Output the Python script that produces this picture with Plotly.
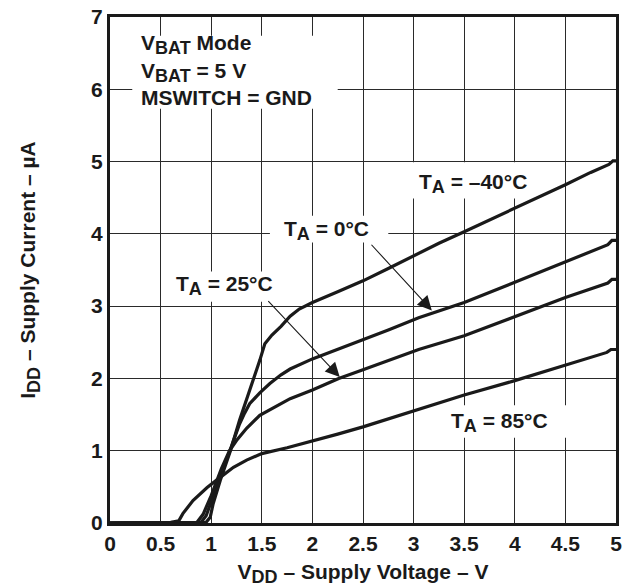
import plotly.graph_objects as go

# ---------------- data ----------------
x_m40 = [0, 0.6, 0.85, 0.95, 0.99, 1.02, 1.09, 1.19, 1.28, 1.38, 1.48, 1.53, 1.56, 1.6, 1.69, 1.78,
         1.87, 2.0, 2.25, 2.5, 2.75, 3.0, 3.25, 3.5, 3.75, 4.0, 4.25, 4.5, 4.75, 4.93, 4.97, 5.0]
y_m40 = [0, 0, 0, 0.01, 0.08, 0.27, 0.59, 1.0, 1.42, 1.83, 2.25, 2.48, 2.53, 2.6, 2.72, 2.86,
         2.96, 3.05, 3.20, 3.35, 3.52, 3.70, 3.87, 4.03, 4.19, 4.36, 4.52, 4.68, 4.85, 4.96, 5.01, 5.01]

x_0 = [0, 0.6, 0.8, 0.9, 0.95, 1.0, 1.1, 1.2, 1.28, 1.33, 1.38, 1.48, 1.58, 1.69, 1.78, 2.0,
       2.25, 2.5, 2.75, 3.05, 3.5, 4.0, 4.25, 4.51, 4.73, 4.92, 4.96, 5.0]
y_0 = [0, 0, 0, 0.01, 0.1, 0.3, 0.68, 1.06, 1.37, 1.52, 1.65, 1.8, 1.93, 2.05, 2.13, 2.27,
       2.40, 2.53, 2.67, 2.84, 3.05, 3.33, 3.47, 3.62, 3.74, 3.85, 3.91, 3.91]

x_25 = [0, 0.6, 0.78, 0.86, 0.92, 1.0, 1.1, 1.18, 1.25, 1.35, 1.48, 1.69, 1.78, 2.0, 2.26,
        2.5, 2.75, 3.05, 3.5, 4.0, 4.5, 4.92, 4.96, 5.0]
y_25 = [0, 0, 0, 0.01, 0.12, 0.38, 0.75, 1.0, 1.14, 1.31, 1.49, 1.65, 1.72, 1.84, 2.0,
        2.12, 2.25, 2.40, 2.59, 2.86, 3.12, 3.32, 3.37, 3.37]

x_85 = [0, 0.4, 0.6, 0.68, 0.72, 0.82, 0.96, 1.06, 1.14, 1.22, 1.35, 1.5, 1.75, 2.0, 2.25,
        2.5, 2.75, 3.05, 3.5, 4.0, 4.5, 4.91, 4.95, 5.0]
y_85 = [0, 0, 0.01, 0.03, 0.13, 0.31, 0.49, 0.6, 0.68, 0.77, 0.87, 0.96, 1.04, 1.13, 1.23,
        1.33, 1.44, 1.58, 1.77, 1.97, 2.18, 2.36, 2.40, 2.40]

series = [("T_A = -40°C", x_m40, y_m40), ("T_A = 0°C", x_0, y_0),
          ("T_A = 25°C", x_25, y_25), ("T_A = 85°C", x_85, y_85)]

x_tickvals = [0, 0.5, 1, 1.5, 2, 2.5, 3, 3.5, 4, 4.5, 5]
x_ticktext = ["0", "0.5", "1", "1.5", "2", "2.5", "3", "3.5", "4", "4.5", "5"]
y_tickvals = [0, 1, 2, 3, 4, 5, 6, 7]
y_ticktext = ["0", "1", "2", "3", "4", "5", "6", "7"]

FONT = "Liberation Sans, Arial, Helvetica, sans-serif"
INK = "#1a1a1a"
FS = 21


def sub(s):
    return '<sub><span style="font-size:18px">' + s + '</span></sub>'


fig = go.Figure()
for name, xs, ys in series:
    fig.add_trace(go.Scatter(x=xs, y=ys, mode="lines", name=name,
                             line=dict(color=INK, width=3.2), showlegend=False))

# white label boxes (between grid and traces)
boxes = [
    (0.22, 2.25, 5.73, 6.74),   # VBAT block
    (2.96, 4.17, 4.49, 4.99),   # -40
    (1.58, 2.75, 3.88, 4.25),   # 0
    (0.59, 1.63, 3.06, 3.48),   # 25
    (3.31, 4.52, 1.18, 1.63),   # 85
]
for x0, x1, y0, y1 in boxes:
    fig.add_shape(type="rect", xref="x", yref="y", x0=x0, x1=x1, y0=y0, y1=y1,
                  fillcolor="white", line=dict(width=0), layer="between")

ann_font = dict(family=FONT, size=FS, color=INK, weight="bold")

# VBAT text block
vbat_lines = [("V" + sub("BAT") + " Mode", 6.62), ("V" + sub("BAT") + " = 5 V", 6.23),
              ("MSWITCH = GND", 5.89)]
for txt, yy in vbat_lines:
    fig.add_annotation(x=0.29, y=yy, xref="x", yref="y", text=txt, showarrow=False,
                       xanchor="left", yanchor="middle", font=ann_font)

labels = [("T" + sub("A") + " = –40°C", 3.59, 4.70),
          ("T" + sub("A") + " = 0°C", 2.14, 4.05),
          ("T" + sub("A") + " = 25°C", 1.13, 3.28),
          ("T" + sub("A") + " = 85°C", 3.85, 1.39)]
for txt, xx, yy in labels:
    fig.add_annotation(x=xx, y=yy, xref="x", yref="y", text=txt, showarrow=False,
                       xanchor="center", yanchor="middle", font=ann_font)

# arrows (head at the curve, tail below the label)
arrows = [((3.18, 2.94), (2.57, 3.87)), ((2.27, 2.02), (1.55, 3.09))]
for (hx, hy), (tx, ty) in arrows:
    fig.add_annotation(x=hx, y=hy, ax=tx, ay=ty, xref="x", yref="y", axref="x", ayref="y",
                       text="", showarrow=True, arrowhead=2, arrowsize=2.6,
                       arrowwidth=1.1, arrowcolor=INK, standoff=0)

axis_common = dict(showline=True, mirror=True, linecolor=INK, linewidth=3,
                   showgrid=True, gridcolor="#2a2a2a", gridwidth=1.2,
                   zeroline=False, ticks="", tickfont=dict(family=FONT, size=FS, color=INK, weight="bold"))

fig.update_xaxes(range=[0, 5], tickvals=x_tickvals, ticktext=x_ticktext,
                 title=dict(text="V" + sub("DD") + " – Supply Voltage – V",
                            font=dict(family=FONT, size=FS, color=INK, weight="bold"),
                            standoff=12),
                 **axis_common)
fig.update_yaxes(range=[0, 7], tickvals=y_tickvals, ticktext=y_ticktext,
                 title=dict(text="I" + sub("DD") + " – Supply Current – µA",
                            font=dict(family=FONT, size=FS, color=INK, weight="bold"),
                            standoff=50),
                 **axis_common)

fig.update_layout(width=632, height=587, margin=dict(l=110, r=16, t=17, b=64, autoexpand=False),
                  paper_bgcolor="white", plot_bgcolor="white",
                  font=dict(family=FONT, color=INK))

fig.write_html("out.html", config={"displayModeBar": False},
               post_script="document.body.style.margin='0';document.body.style.padding='0';")
